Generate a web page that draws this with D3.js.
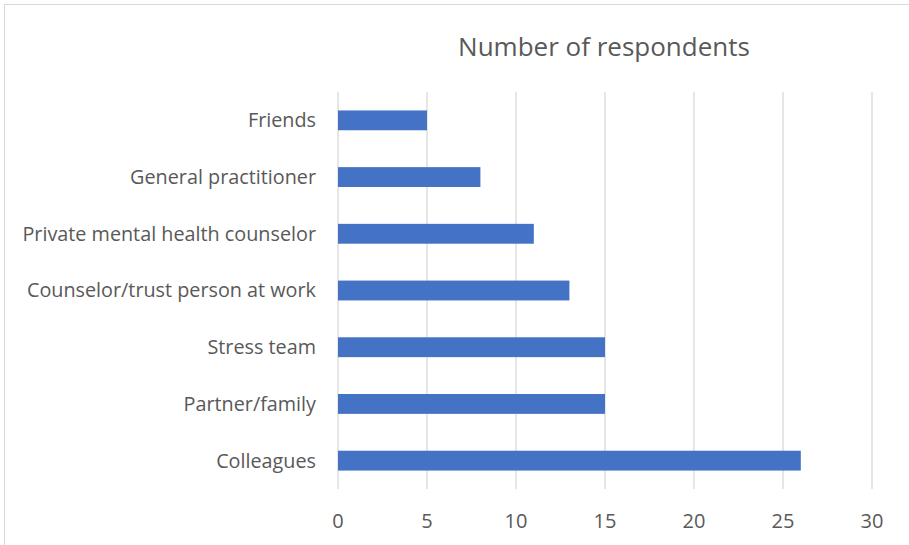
<!DOCTYPE html>
<html>
<head>
<meta charset="utf-8">
<script src="https://cdn.jsdelivr.net/npm/d3@7"></script>
<style>
  body { margin: 0; background: #fff; }
  text { font-family: "Open Sans", Lato, sans-serif; fill: #595959; }
</style>
</head>
<body>
<script>
// data
var categories = ["Friends", "General practitioner", "Private mental health counselor",
                  "Counselor/trust person at work", "Stress team", "Partner/family", "Colleagues"];
var respondents = [5, 8, 11, 13, 15, 15, 26];
var xTicks = [0, 5, 10, 15, 20, 25, 30];

var data = categories.map((c, i) => ({ name: c, value: respondents[i] }));

var width = 909, height = 545;
var margin = { top: 92, right: 37, bottom: 56, left: 338 };

var svg = d3.select("body")
  .append("svg")
  .attr("width", width)
  .attr("height", height);

// chart border
svg.append("rect")
  .attr("x", 4.5).attr("y", 4.5)
  .attr("width", width).attr("height", height)
  .attr("fill", "none")
  .attr("stroke", "#d9d9d9");

var x = d3.scaleLinear()
  .domain([0, 30])
  .range([margin.left, width - margin.right]);

var y = d3.scaleBand()
  .domain(categories)
  .range([margin.top, height - margin.bottom])
  .paddingInner(0.65)
  .paddingOuter(0.325);

// vertical gridlines
svg.append("g")
  .selectAll("line")
  .data(xTicks)
  .join("line")
  .attr("x1", d => x(d)).attr("x2", d => x(d))
  .attr("y1", margin.top).attr("y2", height - margin.bottom)
  .attr("stroke", "#d9d9d9")
  .attr("stroke-width", 1.3);

// bars
svg.append("g")
  .selectAll("rect")
  .data(data)
  .join("rect")
  .attr("x", x(0))
  .attr("y", d => y(d.name))
  .attr("width", d => x(d.value) - x(0))
  .attr("height", y.bandwidth())
  .attr("fill", "#4472C4");

// x tick labels
svg.append("g")
  .selectAll("text")
  .data(xTicks)
  .join("text")
  .attr("x", d => x(d))
  .attr("y", 528)
  .attr("text-anchor", "middle")
  .style("font-size", "20px")
  .text(d => d);

// category labels
svg.append("g")
  .selectAll("text")
  .data(categories)
  .join("text")
  .attr("x", 316)
  .attr("y", d => y(d) + y.bandwidth() / 2)
  .attr("dy", "0.35em")
  .attr("text-anchor", "end")
  .style("font-size", "19.8px")
  .text(d => d);

// title
svg.append("text")
  .attr("x", 604)
  .attr("y", 56)
  .attr("text-anchor", "middle")
  .style("font-size", "26px")
  .text("Number of respondents");
</script>
</body>
</html>
